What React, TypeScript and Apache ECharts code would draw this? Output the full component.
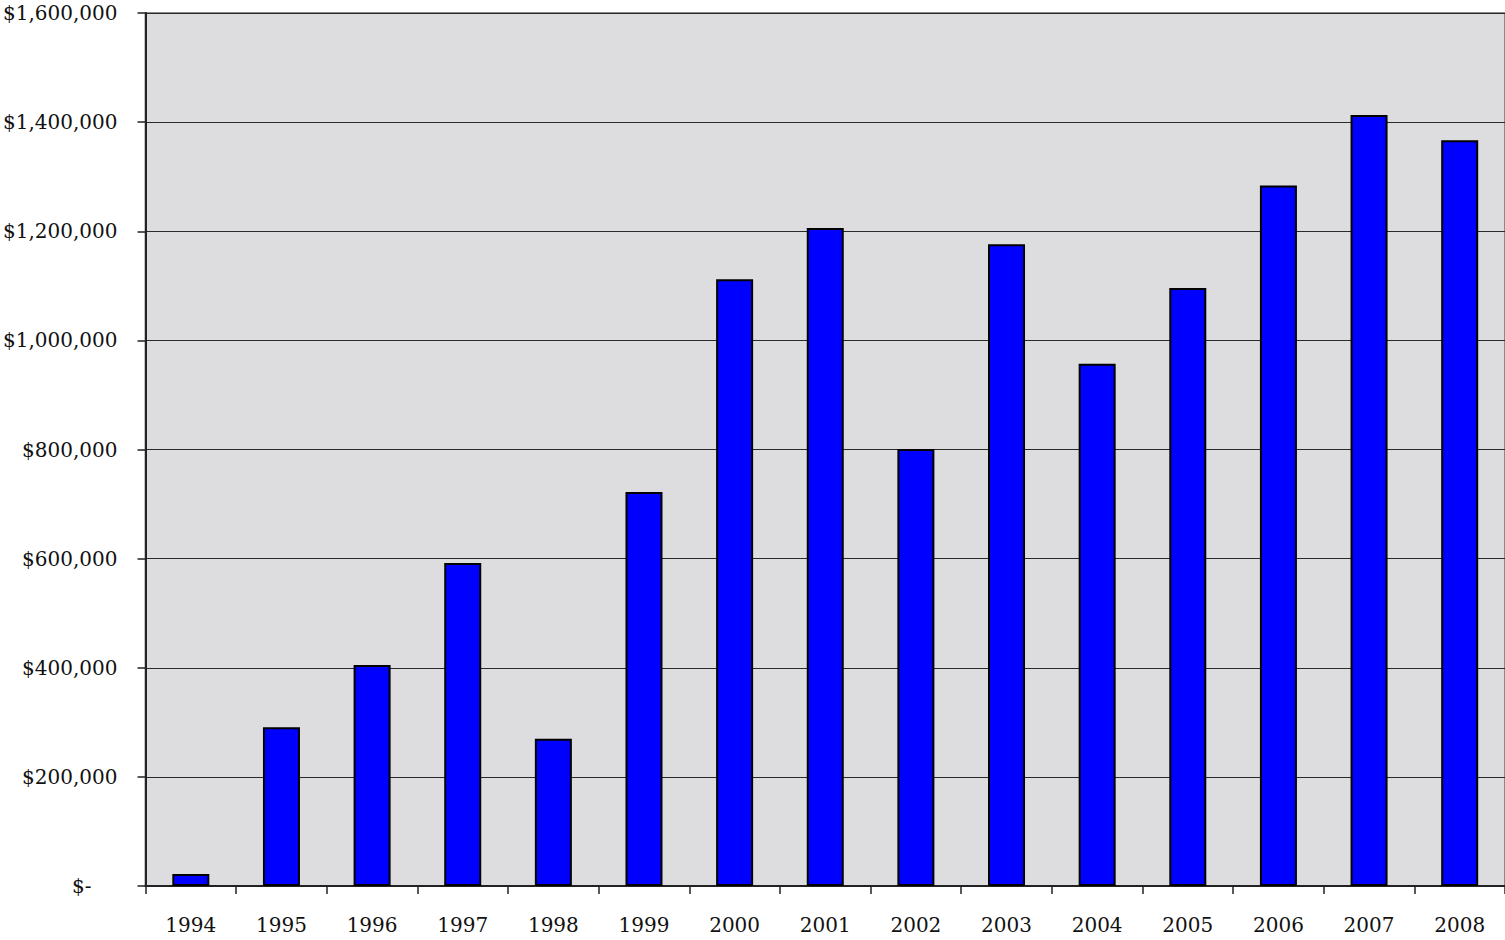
import React, { useEffect, useRef } from "react";
import * as echarts from "echarts";

const years = ["1994","1995","1996","1997","1998","1999","2000","2001","2002","2003","2004","2005","2006","2007","2008"];
const amounts = [22000, 291000, 405000, 592000, 270000, 722000, 1112000, 1206000, 801000, 1176000, 957000, 1096000, 1284000, 1413000, 1367000];
const yMax = 1600000;
const yInterval = 200000;

const FONT = "'DejaVu Serif', 'Liberation Serif', serif";

function fmtMoney(v: number): string {
  if (v === 0) return "{z|$-}";
  return "$" + v.toLocaleString("en-US");
}

export default function App() {
  const ref = useRef<HTMLDivElement>(null);
  useEffect(() => {
    document.body.style.margin = "0";
    const chart = echarts.init(ref.current!, null, { renderer: "svg" });
    chart.setOption({
      animation: false,
      backgroundColor: "#ffffff",
      grid: {
        left: 144,
        top: 13,
        right: -2,
        bottom: 54,
        show: true,
        backgroundColor: "#dddddf",
        borderColor: "#8a8a8a",
        borderWidth: 2,
      },
      xAxis: {
        type: "category",
        data: years,
        axisLine: { lineStyle: { color: "#222", width: 2 } },
        axisTick: { show: true, length: 8, lineStyle: { color: "#222", width: 1.5 } },
        axisLabel: { color: "#111", fontFamily: FONT, fontSize: 20, margin: 29 },
      },
      yAxis: {
        type: "value",
        min: 0,
        max: yMax,
        interval: yInterval,
        axisLine: { show: true, lineStyle: { color: "#222", width: 2 } },
        axisTick: { show: true, length: 8, lineStyle: { color: "#222", width: 1.5 } },
        splitLine: { lineStyle: { color: "#2a2a2a", width: 1 } },
        axisLabel: {
          color: "#111",
          fontFamily: FONT,
          fontSize: 20,
          margin: 28,
          formatter: fmtMoney,
          rich: { z: { fontFamily: FONT, fontSize: 20, color: "#111", padding: [0, 26, 0, 0] } },
        },
      },
      series: [
        {
          type: "bar",
          data: amounts,
          barWidth: 37,
          itemStyle: { color: "#0000ff", borderColor: "#000", borderWidth: 2 },
        },
      ],
    });
    return () => chart.dispose();
  }, []);
  return <div ref={ref} style={{ width: 1505, height: 940 }} />;
}
